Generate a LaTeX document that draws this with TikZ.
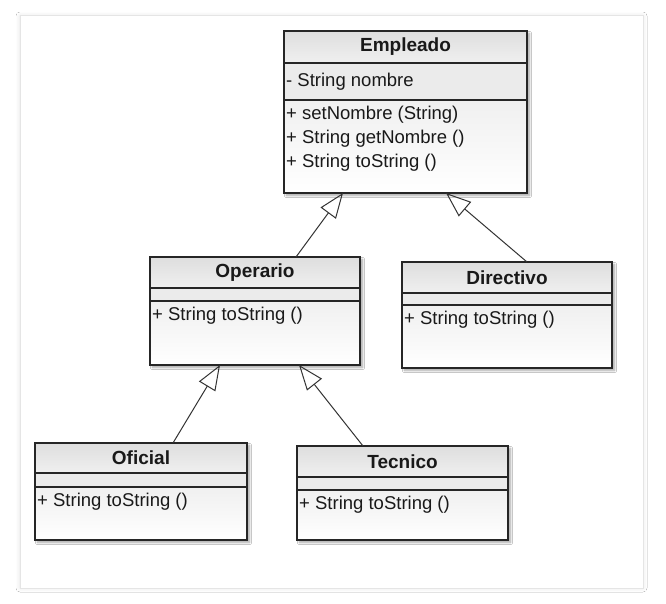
\documentclass[tikz,border=0pt]{standalone}
\usepackage{fontspec}
\setmainfont{Liberation Sans}
\usetikzlibrary{arrows.meta, positioning, shadows.blur, backgrounds}

\begin{document}
\begin{tikzpicture}[
      x=1pt, y=-1pt,
      compart/.style={rectangle, draw=black!85, line width=1.2pt, outer sep=0pt, inner sep=0pt},
      classhead/.style={compart, top color=black!13, bottom color=black!6, font=\fontsize{19}{22}\selectfont\bfseries, text=black!90},
      attrbox/.style={compart, fill=black!8},
      opsbox/.style={compart, top color=black!6, bottom color=white},
      member/.style={inner xsep=2pt, inner ysep=6pt, align=left, font=\fontsize{18.5}{24}\selectfont, text=black!90},
      classshadow/.style={fill=white, blur shadow={shadow xshift=2.5pt, shadow yshift=-2.5pt, shadow blur steps=6, shadow opacity=35}},
      inherit/.style={draw=black!80, line width=1pt, -{Triangle[open, length=25pt, width=19pt, line width=1pt]}}
    ]
    \useasboundingbox (0,0) rectangle (666,604);

    % Empleado
    \node[classhead, minimum width=243pt, minimum height=32pt, anchor=north west] (empleado) at (284,31) {Empleado};
    \node[attrbox, minimum width=243pt, minimum height=37pt, below=0pt of empleado] (empleado-attr) {};
    \node[opsbox, minimum width=243pt, minimum height=93pt, below=0pt of empleado-attr] (empleado-ops) {};
    \node[member, anchor=west] (empleado-nombre) at (empleado-attr.west) {- String nombre};
    \node[member, anchor=north west] (empleado-metodos) at (empleado-ops.north west)
      {+ setNombre (String)\\+ String getNombre ()\\+ String toString ()};

    % Operario
    \node[classhead, minimum width=210pt, minimum height=31pt, anchor=north west] (operario) at (150,257) {Operario};
    \node[attrbox, minimum width=210pt, minimum height=13pt, below=0pt of operario] (operario-attr) {};
    \node[opsbox, minimum width=210pt, minimum height=64pt, below=0pt of operario-attr] (operario-ops) {};
    \node[member, anchor=north west] (operario-metodos) at (operario-ops.north west) {+ String toString ()};

    % Directivo
    \node[classhead, minimum width=210pt, minimum height=31pt, anchor=north west] (directivo) at (402,262) {Directivo};
    \node[attrbox, minimum width=210pt, minimum height=12pt, below=0pt of directivo] (directivo-attr) {};
    \node[opsbox, minimum width=210pt, minimum height=63pt, below=0pt of directivo-attr] (directivo-ops) {};
    \node[member, anchor=north west] (directivo-metodos) at (directivo-ops.north west) {+ String toString ()};

    % Oficial
    \node[classhead, minimum width=212pt, minimum height=30pt, anchor=north west] (oficial) at (35,443) {Oficial};
    \node[attrbox, minimum width=212pt, minimum height=14pt, below=0pt of oficial] (oficial-attr) {};
    \node[opsbox, minimum width=212pt, minimum height=53pt, below=0pt of oficial-attr] (oficial-ops) {};
    \node[member, anchor=north west] (oficial-metodos) at (oficial-ops.north west) {+ String toString ()};

    % Tecnico
    \node[classhead, minimum width=211pt, minimum height=31pt, anchor=north west] (tecnico) at (297,446) {Tecnico};
    \node[attrbox, minimum width=211pt, minimum height=13pt, below=0pt of tecnico] (tecnico-attr) {};
    \node[opsbox, minimum width=211pt, minimum height=50pt, below=0pt of tecnico-attr] (tecnico-ops) {};
    \node[member, anchor=north west] (tecnico-metodos) at (tecnico-ops.north west) {+ String toString ()};

    % herencia
    \draw[inherit] ([xshift=41pt]operario.north) -- ([xshift=-62.5pt]empleado-ops.south);
    \draw[inherit] ([xshift=20pt]directivo.north) -- ([xshift=40.5pt]empleado-ops.south);
    \draw[inherit] ([xshift=32pt]oficial.north) -- ([xshift=-35pt]operario-ops.south);
    \draw[inherit] ([xshift=-39.5pt]tecnico.north) -- ([xshift=44pt]operario-ops.south);

    % tarjeta y sombras
    \begin{scope}[on background layer]
      \fill[white] (0,0) rectangle (666,604);
      \path[fill=white, draw=black!10, line width=1pt,
        blur shadow={shadow xshift=0pt, shadow yshift=0pt, shadow blur radius=4pt, shadow opacity=12}]
        (20,16) rectangle (643,588);
      \foreach \cls in {empleado, operario, directivo, oficial, tecnico}
        \path[classshadow] (\cls.north west) rectangle (\cls-ops.south east);
    \end{scope}
  \end{tikzpicture}
\end{document}
